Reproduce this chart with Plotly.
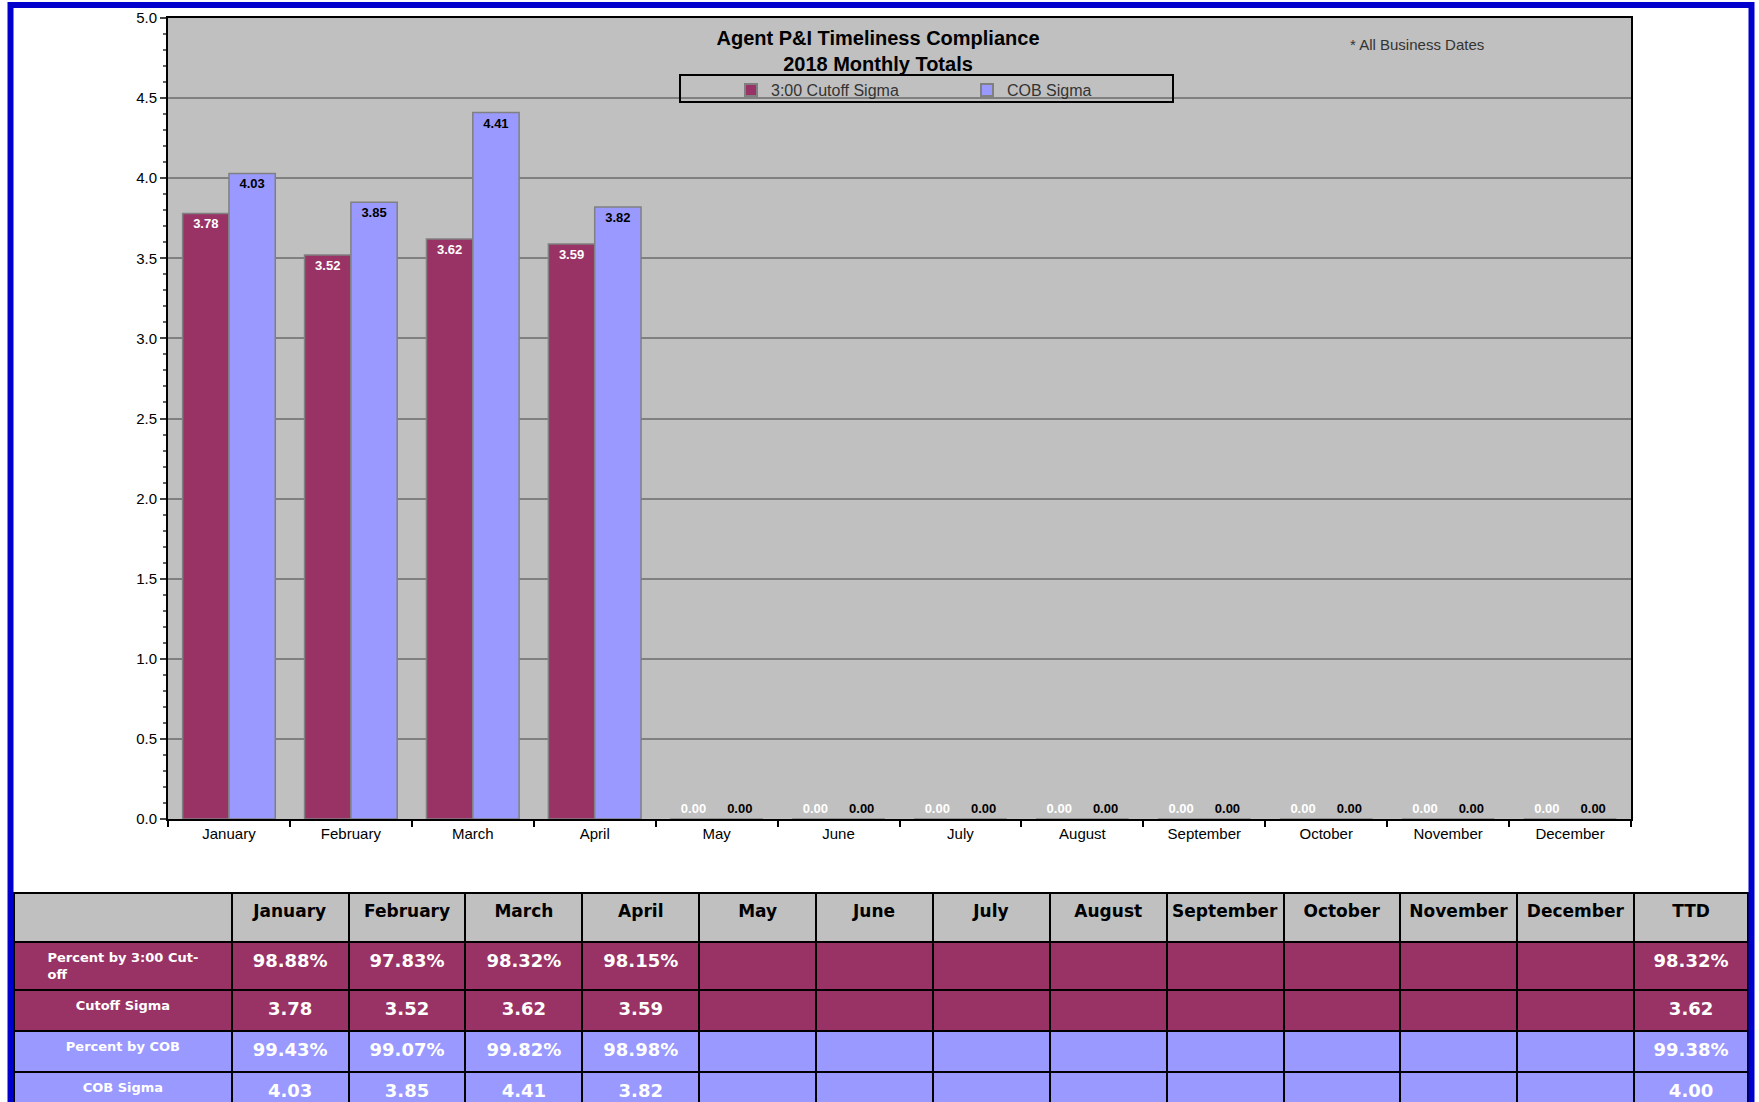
import plotly.graph_objects as go

W, H = 1759, 1140  # figure is a bit taller than the window; the window crops the table like the reference

months = ["January", "February", "March", "April", "May", "June", "July",
          "August", "September", "October", "November", "December"]
cutoff_sigma = [3.78, 3.52, 3.62, 3.59, 0, 0, 0, 0, 0, 0, 0, 0]
cob_sigma = [4.03, 3.85, 4.41, 3.82, 0, 0, 0, 0, 0, 0, 0, 0]

pct_cutoff = ["98.88%", "97.83%", "98.32%", "98.15%", "", "", "", "", "", "", "", ""]
pct_cob = ["99.43%", "99.07%", "99.82%", "98.98%", "", "", "", "", "", "", "", ""]
cutoff_sigma_txt = ["3.78", "3.52", "3.62", "3.59", "", "", "", "", "", "", "", ""]
cob_sigma_txt = ["4.03", "3.85", "4.41", "3.82", "", "", "", "", "", "", "", ""]
ytd_label = "TTD"
ytd_values = ["98.32%", "3.62", "99.38%", "4.00"]
row_labels = ["Percent by 3:00 Cut-<br>off", "Cutoff Sigma", "Percent by COB", "COB Sigma"]

MAROON = "#993366"
BLUE = "#9999FF"
GRAY = "#C0C0C0"


def px(x):
    return x / W


def py(y):
    return 1 - y / H


fig = go.Figure()

fig.add_trace(go.Bar(
    x=months, y=cutoff_sigma, name="3:00 Cutoff Sigma",
    marker=dict(color=MAROON, line=dict(color="#808080", width=1.5)),
    text=[f"{v:.2f}" for v in cutoff_sigma],
    textposition=["inside" if v > 0 else "outside" for v in cutoff_sigma],
    insidetextanchor="end",
    textfont=dict(color="white", size=13, family="Liberation Sans, Arial"),
    texttemplate="<b>%{text}</b>",
    cliponaxis=False,
))
fig.add_trace(go.Bar(
    x=months, y=cob_sigma, name="COB Sigma",
    marker=dict(color=BLUE, line=dict(color="#808080", width=1.5)),
    text=[f"{v:.2f}" for v in cob_sigma],
    textposition=["inside" if v > 0 else "outside" for v in cob_sigma],
    insidetextanchor="end",
    textfont=dict(color="black", size=13, family="Liberation Sans, Arial"),
    texttemplate="<b>%{text}</b>",
    cliponaxis=False,
))

# table
header_vals = [""] + months + [ytd_label]
col_vals = [row_labels]
for i in range(12):
    col_vals.append([pct_cutoff[i], cutoff_sigma_txt[i], pct_cob[i], cob_sigma_txt[i]])
col_vals.append(ytd_values)
row_fill = [MAROON, MAROON, BLUE, BLUE]
ncol = len(header_vals)
cell_fonts_size = [13] + [18] * (ncol - 1)

fig.add_trace(go.Table(
    domain=dict(x=[px(14), px(1748)], y=[0, py(893)]),
    columnwidth=[218] + [117] * 12 + [114],
    header=dict(
        values=[f"<b>{h}</b>" if h else "" for h in header_vals],
        fill_color=GRAY,
        line=dict(color="black", width=2),
        align="center",
        height=49,
        font=dict(color="black", size=17, family="DejaVu Sans, Verdana"),
    ),
    cells=dict(
        values=[[f"<b>{v}</b>" if v else "" for v in col] for col in col_vals],
        fill_color=[row_fill] * ncol,
        line=dict(color="black", width=2),
        align="center",
        height=41,
        font=dict(color="white", size=cell_fonts_size, family="DejaVu Sans, Verdana"),
    ),
))

fig.update_layout(
    width=W, height=H,
    margin=dict(l=0, r=0, t=0, b=0, autoexpand=False),
    paper_bgcolor="white",
    plot_bgcolor=GRAY,
    barmode="group",
    bargap=0.24,
    bargroupgap=0,
    showlegend=True,
    legend=dict(
        orientation="h",
        x=px(731), y=py(90), xanchor="left", yanchor="middle",
        entrywidth=191, entrywidthmode="pixels",
        bgcolor="rgba(0,0,0,0)", borderwidth=0,
        font=dict(size=16, color="#333333", family="Liberation Sans, Arial"),
        itemsizing="constant",
    ),
    xaxis=dict(
        domain=[px(168), px(1631)],
        showline=True, linecolor="black", linewidth=2, mirror=True,
        ticks="outside", ticklen=6, tickcolor="black", tickwidth=1.5,
        tickson="boundaries",
        tickfont=dict(size=15, color="black", family="Liberation Sans, Arial"),
        showgrid=False, fixedrange=True,
    ),
    yaxis=dict(
        domain=[py(819), py(18)],
        range=[0, 5],
        dtick=0.5, tick0=0, tickformat=".1f",
        showline=True, linecolor="black", linewidth=2, mirror=True,
        ticks="outside", ticklen=6, tickcolor="#444444", tickwidth=1.5,
        minor=dict(dtick=0.1, ticks="outside", ticklen=3, tickcolor="#666666", showgrid=False),
        showgrid=True, gridcolor="#808080", gridwidth=1.5,
        zeroline=False,
        tickfont=dict(size=15, color="black", family="Liberation Sans, Arial"),
        fixedrange=True,
    ),
    title=dict(
        text="<b>Agent P&I Timeliness Compliance<br>2018 Monthly Totals</b>",
        x=px(878), xanchor="center", y=py(45), yanchor="top",
        font=dict(size=20, color="black", family="Liberation Sans, Arial"),
    ),
    annotations=[dict(
        text="* All Business Dates", xref="paper", yref="paper",
        x=px(1417), y=py(44), xanchor="center", yanchor="middle",
        showarrow=False,
        font=dict(size=15, color="#333333", family="Liberation Sans, Arial"),
    )],
    shapes=[
        dict(type="rect", xref="paper", yref="paper",
             x0=px(680), x1=px(1173), y0=py(102), y1=py(75),
             line=dict(color="black", width=2), fillcolor="rgba(0,0,0,0)"),
        dict(type="rect", xref="paper", yref="paper",
             x0=px(10.5), x1=px(1751.5), y0=py(1130), y1=py(5),
             line=dict(color="#0000CC", width=6), fillcolor="rgba(0,0,0,0)"),
    ],
)

fig.write_html(
    "out.html",
    config={"displayModeBar": False},
    post_script="document.body.style.margin='0';document.body.style.overflow='hidden';",
)
